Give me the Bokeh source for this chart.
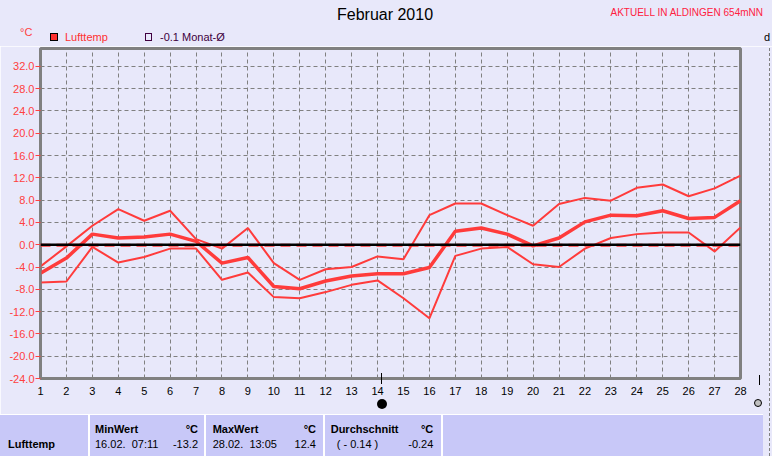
from bokeh.plotting import figure
from bokeh.models import (Range1d, FixedTicker, PrintfTickFormatter, Span, Div,
                          ColumnDataSource)
from bokeh.layouts import column
from bokeh.embed import file_html
from bokeh.resources import INLINE

# ---------------- data ----------------
days = list(range(1, 29))
t_max = [-3.9, -0.3, 3.4, 6.4, 4.3, 6.1, 1.0, -0.7, 3.0, -3.3, -6.3, -4.4, -4.0, -2.1,
         -2.6, 5.3, 7.4, 7.4, 5.3, 3.4, 7.3, 8.4, 7.9, 10.2, 10.8, 8.7, 10.1, 12.4]
t_avg = [-5.1, -2.4, 1.9, 1.2, 1.4, 1.9, 0.6, -3.3, -2.3, -7.5, -7.9, -6.5, -5.6, -5.2,
         -5.2, -4.1, 2.4, 3.0, 1.9, -0.2, 1.2, 4.1, 5.3, 5.2, 6.1, 4.7, 4.9, 7.9]
t_min = [-6.8, -6.6, -0.4, -3.2, -2.2, -0.7, -0.7, -6.3, -5.0, -9.4, -9.6, -8.5, -7.2, -6.4,
         -9.6, -13.2, -2.0, -0.7, -0.4, -3.5, -4.0, -0.7, 1.2, 1.9, 2.2, 2.2, -1.2, 3.1]
month_avg = -0.1
y_ticks = [-24, -20, -16, -12, -8, -4, 0, 4, 8, 12, 16, 20, 24, 28, 32]
y_top = 35.2
y_bottom = -24

title_text = "Februar 2010"
station_text = "AKTUELL IN ALDINGEN 654mNN"
unit_text = "°C"
series_name = "Lufttemp"
avg_name = "-0.1 Monat-Ø"
side_text = "d"

tbl_min_label, tbl_min_time, tbl_min_val = "MinWert", "16.02.  07:11", "-13.2"
tbl_max_label, tbl_max_time, tbl_max_val = "MaxWert", "28.02.  13:05", "12.4"
tbl_avg_label, tbl_avg_a, tbl_avg_b = "Durchschnitt", "( - 0.14 )", "-0.24"

# ---------------- style ----------------
BG = "#E8E8FA"
CELL = "#C8C8F8"
RED = "#FF3B3B"
TICKRED = "#FF4040"
GREY = "#808080"
FONT = "Liberation Sans"
W = 772
HEAD_H = 46
FIG_H = 368
TAB_H = 42


def span(text, left=None, right=None, top=0, size=11, color="black", bold=False):
    pos = f"left:{left}px;" if left is not None else f"right:{right}px;"
    weight = "bold" if bold else "normal"
    return (f'<span style="position:absolute;{pos}top:{top}px;font-size:{size}px;'
            f'line-height:{size}px;color:{color};font-weight:{weight};'
            f'white-space:pre;">{text}</span>')


def box(left, top, w, h, style):
    return (f'<div style="position:absolute;left:{left}px;top:{top}px;width:{w}px;'
            f'height:{h}px;{style}"></div>')


# ---------------- header ----------------
head_html = (
    f'<div style="position:relative;width:{W}px;height:{HEAD_H}px;background:{BG};'
    f'font-family:\'{FONT}\';overflow:visible;">'
    + span(title_text, left=337, top=7, size=16)
    + span(station_text, right=W - 763, top=8, size=10, color="#FF2040")
    + span(unit_text, left=20, top=27, size=11, color=TICKRED)
    + box(50, 33, 8, 8, "background:#FF3030;border:1px solid black;")
    + span(series_name, left=65, top=31.5, size=11, color="#FF3030")
    + box(145, 33, 7, 8, "border:1px solid #400040;")
    + span(avg_name, left=160, top=31.5, size=11, color="#400040")
    + span(side_text, left=764, top=32, size=11)
    + box(764, 47, 8, 2, f"background:{GREY};")
    + '</div>'
)
head = Div(text=head_html, width=W, height=HEAD_H, margin=0)

# ---------------- chart ----------------
p = figure(width=W, height=FIG_H, x_range=Range1d(1, 28), y_range=Range1d(y_bottom, y_top),
           output_backend="svg", toolbar_location=None,
           min_border_left=40, min_border_right=32, min_border_top=2,
           min_border_bottom=36)
p.background_fill_color = BG
p.border_fill_color = BG
p.outline_line_color = GREY
p.outline_line_width = 3

p.xaxis.ticker = FixedTicker(ticks=days)
p.xaxis.axis_line_color = GREY
p.xaxis.axis_line_width = 2
p.xaxis.major_tick_in = 0
p.xaxis.major_tick_out = 0
p.xaxis.minor_tick_line_color = None
p.xaxis.major_label_standoff = 8
p.xaxis.major_label_text_font = FONT
p.xaxis.major_label_text_font_size = "11px"
p.xaxis.major_label_text_color = "black"

p.yaxis.ticker = FixedTicker(ticks=y_ticks)
p.yaxis.formatter = PrintfTickFormatter(format="%.1f")
p.yaxis.axis_line_color = GREY
p.yaxis.axis_line_width = 2
p.yaxis.major_tick_in = 0
p.yaxis.major_tick_out = 5
p.yaxis.major_tick_line_color = TICKRED
p.yaxis.minor_tick_line_color = None
p.yaxis.major_label_standoff = 1
p.yaxis.major_label_text_font = FONT
p.yaxis.major_label_text_font_size = "11px"
p.yaxis.major_label_text_color = TICKRED

p.xgrid.ticker = FixedTicker(ticks=days)
p.ygrid.ticker = FixedTicker(ticks=y_ticks)
for g in (p.xgrid, p.ygrid):
    g.grid_line_color = GREY
    g.grid_line_dash = "4 3"
    g.grid_line_width = 1

p.add_layout(Span(location=month_avg, dimension="width", line_color=RED,
                  line_width=3, line_dash="10 6"))
p.add_layout(Span(location=0, dimension="width", line_color="black", line_width=2.5))

src = ColumnDataSource(dict(day=days, tmax=t_max, tavg=t_avg, tmin=t_min))
p.line("day", "tmax", source=src, line_color=RED, line_width=2)
p.line("day", "tmin", source=src, line_color=RED, line_width=2)
p.line("day", "tavg", source=src, line_color=RED, line_width=3.5)

# ---------------- table ----------------
B = 9.3  # baseline offset of 11px text
tab_html = (
    f'<div style="position:relative;width:{W}px;height:{TAB_H}px;background:{BG};'
    f'font-family:\'{FONT}\';overflow:visible;">'
    + box(0, 0, 763, TAB_H, "background:white;")
    + box(0, 1, 88, TAB_H - 1, f"background:{CELL};")
    + box(90, 1, 114, TAB_H - 1, f"background:{CELL};")
    + box(206, 1, 117, TAB_H - 1, f"background:{CELL};")
    + box(325, 1, 116, TAB_H - 1, f"background:{CELL};")
    + box(443, 1, 320, TAB_H - 1, f"background:{CELL};")
    + span(series_name, left=8, top=34 - B, bold=True)
    + span(tbl_min_label, left=95, top=19 - B, bold=True)
    + span(unit_text, right=W - 198, top=19 - B, bold=True)
    + span(tbl_min_time, left=95, top=34 - B)
    + span(tbl_min_val, right=W - 198, top=34 - B)
    + span(tbl_max_label, left=212.7, top=19 - B, bold=True)
    + span(unit_text, right=W - 316, top=19 - B, bold=True)
    + span(tbl_max_time, left=212.7, top=34 - B)
    + span(tbl_max_val, right=W - 316, top=34 - B)
    + span(tbl_avg_label, left=330.7, top=19 - B, bold=True)
    + span(unit_text, right=W - 433.3, top=19 - B, bold=True)
    + span(tbl_avg_a, left=336.7, top=34 - B)
    + span(tbl_avg_b, right=W - 433.3, top=34 - B)
    # current-day markers just above the table
    + box(381, -41, 1, 11, "background:black;")
    + box(377, -15, 10, 10, "background:black;border-radius:50%;")
    + box(759, -39, 1, 10, "background:black;")
    + box(754, -15, 8, 8, "background:#C0C0C0;border:1px solid black;border-radius:50%;")
    # partial second axis at the right edge
    + box(769, -366, 0, 366 + TAB_H, f"border-left:1px dashed {GREY};")
    + '</div>'
)
tab = Div(text=tab_html, width=W, height=TAB_H, margin=0)

layout = column(head, p, tab, spacing=0)
open("out.html", "w").write(file_html(layout, INLINE))
